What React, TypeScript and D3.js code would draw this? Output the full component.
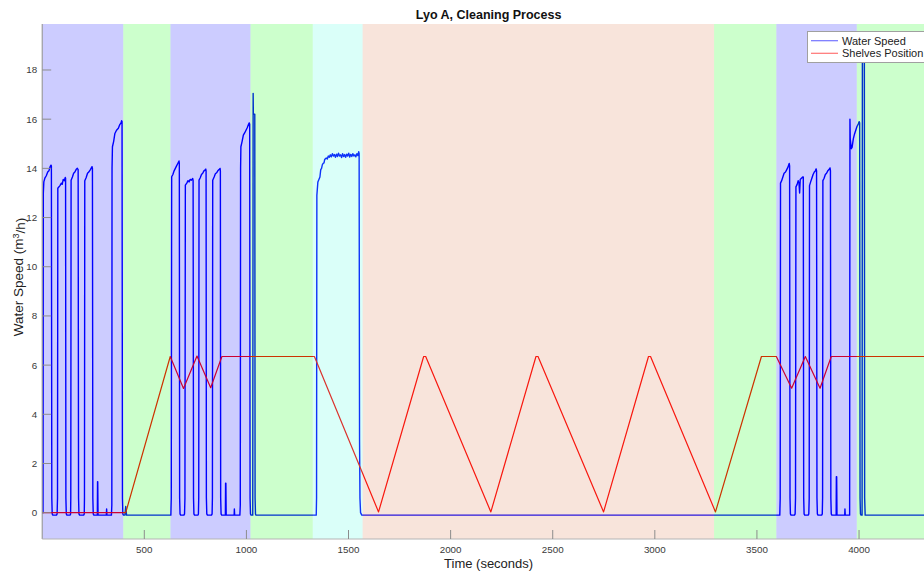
import React from 'react';
import * as d3 from 'd3';

const WIDTH = 924;
const HEIGHT = 571;

// Axis limits (seconds, m^3/h)
const X_DOMAIN: [number, number] = [0, 4372];
const Y_DOMAIN: [number, number] = [-1.07, 19.87];
const X_TICKS = [500, 1000, 1500, 2000, 2500, 3000, 3500, 4000];
const Y_TICKS = [0, 2, 4, 6, 8, 10, 12, 14, 16, 18];

// Process phases (start / end in seconds, and phase type)
const phaseStart = [0, 397, 628, 1020, 1325, 1569, 3290, 3595, 3989];
const phaseEnd = [397, 628, 1020, 1325, 1569, 3290, 3595, 3989, 4372];
const phaseKind = ['wash', 'rinse', 'wash', 'rinse', 'dry', 'cycle', 'rinse', 'wash', 'rinse'];
const phaseColor: Record<string, string> = {
  wash: 'rgba(0,0,255,0.2)',
  rinse: 'rgba(0,255,0,0.2)',
  dry: 'rgba(70,255,225,0.2)',
  cycle: 'rgba(220,120,75,0.2)',
};

// Water speed samples [time s, speed m^3/h], grouped by phase
const waterWash1: [number, number][] = [
  [0, 0], [4, 0], [5.5, 13.0], [8, 13.45], [13, 13.6], [20, 13.7], [27, 13.85], [33, 13.9], [38, 14.05], [43, 14.13], [45, 14.1],
  [47, 0.6], [49, -0.05], [52, -0.1], [70, -0.1], [73, -0.05], [75, 0.6],
  [76.5, 13.19], [87, 13.3], [94, 13.4], [98, 13.35], [103, 13.55], [108, 13.5], [113, 13.63], [114.5, 13.6],
  [116, 0.6], [118, -0.05], [121, -0.1], [137, -0.1], [139, -0.05], [140, 0.6],
  [141.5, 13.52], [148, 13.65], [154, 13.8], [160, 13.85], [166, 13.95], [172, 14.0], [176, 13.95],
  [178, 0.6], [180, -0.05], [183, -0.1], [203, -0.1], [206, -0.05], [207, 0.6],
  [208.5, 13.5], [215, 13.62], [222, 13.8], [228, 13.85], [236, 13.95], [244, 14.07], [246, 14.0],
  [248, 0.6], [250, -0.05], [253, -0.1], [270, -0.1], [271, 1.26], [272, 1.26], [273.5, -0.1],
  [314, -0.1], [315.5, 0.15], [317, -0.1], [339, -0.1], [341, 0.3],
  [342, 14.0], [344, 14.88], [350, 15.1], [356, 15.42], [364, 15.55], [373, 15.63], [380, 15.78], [386, 15.85], [389, 15.94], [391, 15.9],
  [393, 0.6], [395, -0.05], [398, -0.1],
];
const waterRinse1: [number, number][] = [
  [405, -0.1], [409, 0.25], [413, -0.1], [628, -0.1],
];
const waterWash2: [number, number][] = [
  [630, -0.1], [632, 0.6], [634, 13.66], [640, 13.75], [646, 13.9], [652, 14.0], [658, 14.1], [664, 14.2], [670, 14.3], [671.5, 14.2],
  [673, 0.6], [675, -0.05], [678, -0.1], [694, -0.1], [697, -0.05], [699, 0.6],
  [701, 13.32], [708, 13.4], [714, 13.5], [719, 13.45], [725, 13.55], [731, 13.52], [737, 13.59], [739, 13.5],
  [741, 0.6], [743, -0.05], [746, -0.1], [763, -0.1], [765, -0.05], [766.5, 0.6],
  [768, 13.52], [774, 13.62], [780, 13.75], [786, 13.8], [792, 13.9], [797, 13.93], [801, 13.97], [802.5, 13.9],
  [804, 0.6], [806, -0.05], [809, -0.1], [829, -0.1], [832, -0.05], [833.5, 0.6],
  [835, 13.52], [842, 13.65], [848, 13.78], [854, 13.82], [860, 13.9], [866, 13.95], [871, 14.0], [872.5, 13.9],
  [874, 0.6], [876, -0.05], [879, -0.1], [897, -0.1], [898, 1.2], [899.5, 1.2], [901, -0.1],
  [940, -0.1], [941, 0.15], [942.5, -0.1], [968, -0.1], [970, 0.3],
  [971.5, 14.0], [973, 14.88], [979, 15.1], [985, 15.35], [992, 15.45], [998, 15.55], [1004, 15.65], [1010, 15.78], [1014, 15.85], [1016, 15.8],
  [1018, 0.6], [1020, -0.05], [1023, -0.1],
];
const waterRinse2: [number, number][] = [
  [1031, -0.1], [1033, 17.05], [1034, 16.2], [1041, 16.2], [1042.5, 0.6], [1044.5, -0.05], [1047, -0.1], [1342, -0.1],
];
const waterDry: [number, number][] = [
  [1343.5, 0.6], [1345, 12.9], [1350, 13.45], [1355, 13.55], [1360, 13.65], [1364, 13.95], [1368, 14.0], [1372, 14.15], [1376, 14.2],
  [1380, 14.22], [1383, 14.35], [1387, 14.4], [1391, 14.42], [1396, 14.38], [1401, 14.5], [1406, 14.45], [1411, 14.55], [1416, 14.47],
  [1421, 14.6], [1426, 14.5], [1431, 14.56], [1436, 14.45], [1441, 14.58], [1446, 14.48], [1451, 14.62], [1456, 14.5], [1461, 14.55],
  [1466, 14.44], [1471, 14.6], [1476, 14.48], [1481, 14.56], [1486, 14.45], [1491, 14.58], [1496, 14.5], [1501, 14.62], [1506, 14.46],
  [1511, 14.57], [1516, 14.48], [1521, 14.6], [1526, 14.5], [1531, 14.55], [1536, 14.47], [1541, 14.6], [1546, 14.52], [1550, 14.68],
  [1552, 14.6], [1554, 3], [1556, 0.6], [1559, 0], [1565, -0.1],
];
const waterCycle: [number, number][] = [
  [3290, -0.1], [3612, -0.1],
];
const waterWash3: [number, number][] = [
  [3614, 0.6], [3615.5, 13.4], [3621, 13.5], [3627, 13.65], [3633, 13.8], [3640, 13.85], [3646, 13.95], [3652, 14.05], [3658, 14.2], [3660, 14.1],
  [3662, 0.6], [3664, -0.05], [3667, -0.1], [3684, -0.1], [3687, -0.05], [3689, 0.6],
  [3691, 13.25], [3697, 13.35], [3702, 13.5], [3706, 13.4], [3709, 13.0], [3712, 13.55], [3718, 13.6], [3724, 13.65], [3727, 13.65],
  [3729, 0.6], [3731, -0.05], [3734, -0.1], [3751, -0.1], [3754, -0.05], [3756, 0.6],
  [3757.5, 13.3], [3763, 13.45], [3769, 13.6], [3775, 13.75], [3781, 13.85], [3786, 13.9], [3790, 13.98], [3792, 13.9],
  [3794, 0.6], [3796, -0.05], [3799, -0.1], [3817, -0.1], [3820, -0.05], [3821.5, 0.6],
  [3823, 13.5], [3829, 13.6], [3835, 13.75], [3841, 13.8], [3847, 13.9], [3853, 13.95], [3858, 14.02], [3860, 13.9],
  [3862, 0.6], [3864, -0.05], [3867, -0.1], [3888, -0.1], [3889, 1.46], [3890.5, 1.46], [3892, -0.1],
  [3930, -0.1], [3931, 0.15], [3932.5, -0.1], [3954, -0.1],
  [3955.5, 16.0], [3957, 15.2], [3962, 14.8], [3966, 14.85], [3972, 15.2], [3978, 15.4], [3984, 15.55], [3990, 15.7], [3996, 15.8], [4001, 15.9], [4003, 15.85],
  [4005, 0.6], [4007, -0.05], [4010, -0.1],
];
const waterRinse3: [number, number][] = [
  [4015, -0.1], [4016.5, 19.2], [4026, 19.2], [4027.5, 0.6], [4030, -0.1], [4372, -0.1],
];

// Shelves position [time s, position]
const shelfTime = [0, 409, 627, 692, 758, 825, 880, 1333, 1647, 1868, 1878, 2197, 2418, 2428, 2749, 2969, 2979, 3297, 3522, 3595, 3670, 3737, 3809, 3864, 4372];
const shelfPos = [0, 0, 6.35, 5.05, 6.37, 5.08, 6.35, 6.35, 0.03, 6.35, 6.35, 0.03, 6.35, 6.35, 0.03, 6.35, 6.35, 0.03, 6.35, 6.35, 5.06, 6.35, 5.06, 6.35, 6.35];

const TITLE = 'Lyo A, Cleaning Process';
const X_LABEL = 'Time (seconds)';
const LEGEND_LABELS = ['Water Speed', 'Shelves Position'];

const FONT = '"Liberation Sans", Arial, Helvetica, sans-serif';

export default function App() {
  const left = 42.2;
  const right = 935;
  const top = 24;
  const bottom = 539;

  const x = d3.scaleLinear().domain(X_DOMAIN).range([left, right]);
  const y = d3.scaleLinear().domain(Y_DOMAIN).range([bottom, top]);

  const water = [
    ...waterWash1, ...waterRinse1, ...waterWash2, ...waterRinse2, ...waterDry,
    ...waterCycle, ...waterWash3, ...waterRinse3,
  ];
  const shelves: [number, number][] = shelfTime.map((t, i) => [t, shelfPos[i]]);

  const line = d3
    .line<[number, number]>()
    .x((d) => x(d[0]))
    .y((d) => y(d[1]));

  const tickColor = '#8c8c8c';
  const labelColor = '#3a3a3a';
  const tickLen = 9;

  return (
    <svg
      width={WIDTH}
      height={HEIGHT}
      viewBox={`0 0 ${WIDTH} ${HEIGHT}`}
      style={{ position: 'absolute', left: 0, top: 0, background: '#fff' }}
      fontFamily={FONT}
    >
      <defs>
        <clipPath id="plot-clip">
          <rect x={left} y={top} width={right - left} height={bottom - top} />
        </clipPath>
      </defs>

      <g clipPath="url(#plot-clip)">
        <path d={line(water) ?? ''} fill="none" stroke="#0000ff" strokeWidth={1.4} strokeLinejoin="round" />
        <path d={line(shelves) ?? ''} fill="none" stroke="#ff0000" strokeWidth={1.2} strokeLinejoin="round" />
        {phaseStart.map((s, i) => (
          <rect
            key={`phase-${i}`}
            x={x(s)}
            y={top}
            width={x(phaseEnd[i]) - x(s)}
            height={bottom - top}
            fill={phaseColor[phaseKind[i]]}
          />
        ))}
      </g>

      {/* axes */}
      <line x1={left} y1={top} x2={left} y2={bottom} stroke={tickColor} strokeWidth={1} />
      <line x1={left} y1={bottom} x2={WIDTH} y2={bottom} stroke="#b4b4b4" strokeWidth={1} />
      {Y_TICKS.map((t) => (
        <g key={`yt-${t}`}>
          <line x1={left} x2={left + tickLen} y1={y(t)} y2={y(t)} stroke={tickColor} strokeWidth={1} />
          <text x={left - 5} y={y(t)} dy="0.35em" textAnchor="end" fontSize={9.8} fill={labelColor}>
            {t}
          </text>
        </g>
      ))}
      {X_TICKS.map((t) => (
        <g key={`xt-${t}`}>
          <line x1={x(t)} x2={x(t)} y1={bottom} y2={bottom - tickLen} stroke={tickColor} strokeWidth={1} />
          <text x={x(t)} y={553} textAnchor="middle" fontSize={9.8} fill={labelColor}>
            {t}
          </text>
        </g>
      ))}

      {/* title and axis labels */}
      <text x={(left + right) / 2} y={18.5} textAnchor="middle" fontSize={12.5} fontWeight="bold" fill="#111">
        {TITLE}
      </text>
      <text x={(left + right) / 2} y={567.5} textAnchor="middle" fontSize={13} fill="#222">
        {X_LABEL}
      </text>
      <text
        transform={`translate(23, 277) rotate(-90)`}
        textAnchor="middle"
        fontSize={13.5}
        fill="#222"
      >
        Water Speed (m<tspan dy="-0.45em" fontSize={9}>3</tspan>
        <tspan dy="0.45em">/h)</tspan>
      </text>

      {/* legend */}
      <g>
        <rect x={807.5} y={31.5} width={140} height={31} fill="#fff" stroke="#a0a0a0" strokeWidth={1} />
        <line x1={811} x2={838} y1={40.7} y2={40.7} stroke="#0000ff" strokeOpacity={0.55} strokeWidth={1.2} />
        <line x1={811} x2={838} y1={53.3} y2={53.3} stroke="#ff0000" strokeOpacity={0.55} strokeWidth={1.2} />
        <text x={842} y={40.7} dy="0.35em" fontSize={11} fill="#222">
          {LEGEND_LABELS[0]}
        </text>
        <text x={842} y={53.3} dy="0.35em" fontSize={11} fill="#222">
          {LEGEND_LABELS[1]}
        </text>
      </g>
    </svg>
  );
}
